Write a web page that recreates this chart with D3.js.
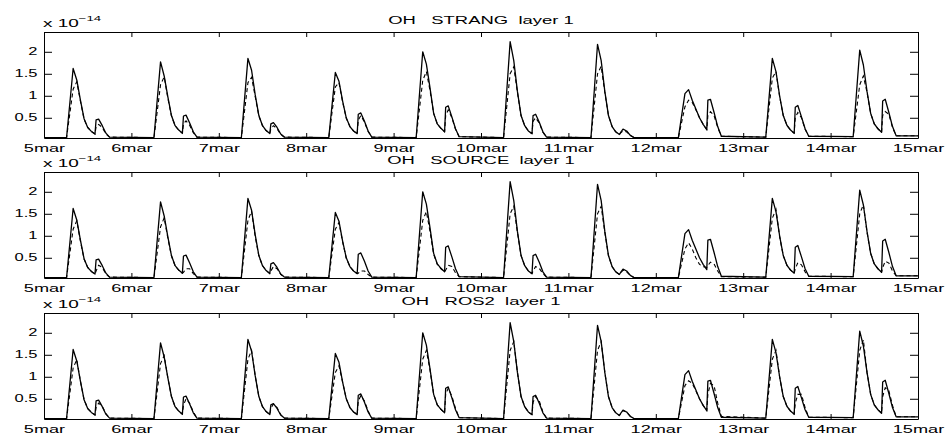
<!DOCTYPE html>
<html>
<head>
<meta charset="utf-8">
<script src="https://cdn.jsdelivr.net/npm/d3@7"></script>
<style>
  body { margin: 0; background: #fff; }
  svg { display: block; font-family: "Liberation Sans", Arial, Helvetica, sans-serif; }
</style>
</head>
<body>
<svg id="chart" width="945" height="435"></svg>
<script>
// x axis: days since 5 March, one label per midnight
const dayLabels = ['5mar', '6mar', '7mar', '8mar', '9mar', '10mar', '11mar', '12mar', '13mar', '14mar', '15mar']
const yTicks = [0.5, 1, 1.5, 2]
// hours of the day at which each daily row is read
const hours = [6.2, 8, 9, 10, 11, 12, 13, 14, 14.3, 15, 16, 17, 18]
const nightFirst = 0.05
const nightLast = 0.09

// solid line (same in all three panels), units of 1e-14
const reference = [
  [0.05, 1.62, 1.36, 0.90, 0.48, 0.28, 0.19, 0.13, 0.45, 0.47, 0.32, 0.15, 0.06],
  [0.05, 1.77, 1.45, 0.98, 0.55, 0.32, 0.22, 0.15, 0.54, 0.56, 0.38, 0.18, 0.06],
  [0.05, 1.85, 1.58, 1.02, 0.55, 0.32, 0.21, 0.14, 0.36, 0.39, 0.28, 0.13, 0.06],
  [0.05, 1.53, 1.33, 0.88, 0.50, 0.30, 0.20, 0.14, 0.58, 0.61, 0.42, 0.20, 0.06],
  [0.05, 2.00, 1.72, 1.18, 0.60, 0.36, 0.26, 0.18, 0.74, 0.77, 0.52, 0.25, 0.07],
  [0.05, 2.23, 1.80, 1.10, 0.55, 0.32, 0.20, 0.14, 0.55, 0.58, 0.40, 0.18, 0.06],
  [0.05, 2.17, 1.80, 1.10, 0.55, 0.30, 0.18, 0.12, 0.16, 0.24, 0.20, 0.10, 0.05],
  [0.05, 1.05, 1.14, 0.90, 0.70, 0.50, 0.35, 0.23, 0.90, 0.92, 0.62, 0.30, 0.08],
  [0.06, 1.85, 1.55, 1.00, 0.55, 0.33, 0.22, 0.15, 0.74, 0.78, 0.52, 0.25, 0.08],
  [0.07, 2.04, 1.70, 1.10, 0.60, 0.36, 0.25, 0.17, 0.88, 0.92, 0.62, 0.30, 0.09]
]

// dashed lines, one per scheme
const strang = [
  [0.05, 1.15, 1.32, 0.88, 0.47, 0.28, 0.19, 0.13, 0.30, 0.35, 0.28, 0.13, 0.06],
  [0.05, 1.25, 1.43, 0.95, 0.54, 0.32, 0.22, 0.15, 0.36, 0.43, 0.33, 0.16, 0.06],
  [0.05, 1.30, 1.42, 0.98, 0.54, 0.32, 0.21, 0.14, 0.25, 0.32, 0.25, 0.12, 0.06],
  [0.05, 1.20, 1.30, 0.86, 0.49, 0.30, 0.20, 0.14, 0.45, 0.55, 0.40, 0.19, 0.06],
  [0.05, 1.35, 1.55, 1.12, 0.60, 0.36, 0.26, 0.18, 0.55, 0.68, 0.50, 0.24, 0.07],
  [0.05, 1.50, 1.66, 1.08, 0.55, 0.32, 0.20, 0.14, 0.42, 0.50, 0.38, 0.17, 0.06],
  [0.05, 1.50, 1.67, 1.08, 0.55, 0.30, 0.18, 0.12, 0.15, 0.20, 0.18, 0.10, 0.05],
  [0.05, 0.75, 0.90, 0.85, 0.68, 0.50, 0.35, 0.23, 0.55, 0.64, 0.55, 0.28, 0.08],
  [0.06, 1.40, 1.55, 0.98, 0.55, 0.33, 0.22, 0.15, 0.50, 0.62, 0.50, 0.24, 0.08],
  [0.07, 1.25, 1.45, 1.08, 0.60, 0.36, 0.25, 0.17, 0.55, 0.64, 0.58, 0.28, 0.09]
]
const source = [
  [0.05, 1.15, 1.34, 0.88, 0.47, 0.28, 0.19, 0.13, 0.20, 0.33, 0.28, 0.13, 0.06],
  [0.05, 1.20, 1.41, 0.95, 0.54, 0.32, 0.22, 0.15, 0.17, 0.25, 0.25, 0.14, 0.06],
  [0.05, 1.35, 1.56, 0.98, 0.54, 0.32, 0.21, 0.14, 0.20, 0.30, 0.25, 0.12, 0.06],
  [0.05, 1.15, 1.30, 0.86, 0.49, 0.30, 0.20, 0.14, 0.15, 0.20, 0.20, 0.12, 0.06],
  [0.05, 1.35, 1.55, 1.10, 0.58, 0.35, 0.25, 0.18, 0.22, 0.33, 0.30, 0.16, 0.07],
  [0.05, 1.50, 1.67, 1.08, 0.55, 0.32, 0.20, 0.14, 0.20, 0.30, 0.26, 0.14, 0.06],
  [0.05, 1.50, 1.67, 1.08, 0.55, 0.30, 0.18, 0.12, 0.15, 0.22, 0.18, 0.10, 0.05],
  [0.05, 0.70, 0.84, 0.70, 0.50, 0.35, 0.30, 0.28, 0.32, 0.40, 0.36, 0.20, 0.07],
  [0.06, 1.40, 1.60, 0.98, 0.55, 0.33, 0.22, 0.15, 0.25, 0.39, 0.34, 0.18, 0.08],
  [0.07, 1.50, 1.71, 1.08, 0.60, 0.36, 0.25, 0.17, 0.28, 0.42, 0.38, 0.20, 0.09]
]
const ros2 = [
  [0.05, 1.20, 1.39, 0.90, 0.48, 0.28, 0.19, 0.13, 0.30, 0.40, 0.33, 0.16, 0.06],
  [0.05, 1.30, 1.48, 0.98, 0.55, 0.32, 0.22, 0.15, 0.35, 0.50, 0.40, 0.20, 0.06],
  [0.05, 1.40, 1.60, 1.02, 0.55, 0.32, 0.21, 0.14, 0.28, 0.38, 0.30, 0.14, 0.06],
  [0.05, 1.10, 1.25, 0.88, 0.50, 0.30, 0.20, 0.14, 0.45, 0.57, 0.45, 0.22, 0.06],
  [0.05, 1.40, 1.60, 1.15, 0.60, 0.36, 0.26, 0.18, 0.60, 0.74, 0.56, 0.28, 0.07],
  [0.05, 1.60, 1.80, 1.10, 0.55, 0.32, 0.20, 0.14, 0.42, 0.55, 0.45, 0.20, 0.06],
  [0.05, 1.60, 1.80, 1.10, 0.55, 0.30, 0.18, 0.12, 0.16, 0.23, 0.20, 0.10, 0.05],
  [0.05, 0.80, 0.91, 0.85, 0.68, 0.50, 0.35, 0.23, 0.60, 0.85, 0.80, 0.40, 0.10],
  [0.06, 1.40, 1.60, 1.00, 0.55, 0.33, 0.22, 0.15, 0.40, 0.60, 0.60, 0.30, 0.08],
  [0.07, 1.60, 1.84, 1.10, 0.60, 0.36, 0.25, 0.17, 0.55, 0.75, 0.68, 0.35, 0.09]
]

const panels = [
  { title: 'OH   STRANG  layer 1', dashed: strang },
  { title: 'OH   SOURCE  layer 1', dashed: source },
  { title: 'OH   ROS2  layer 1', dashed: ros2 }
]

let svg = d3.select('#chart')
let left = 44, right = 918, panelH = 106
let panelTop = [32, 172, 313]
let stretch = 'scale(1.65,1)'

let x = d3.scaleLinear().domain([0, 10]).range([left, right])

// daily rows -> [day, value] pairs
function toPoints(rows) {
  let pts = [[0, nightFirst]]
  rows.forEach((row, d) => row.forEach((v, i) => pts.push([d + hours[i] / 24, v])))
  pts.push([10, nightLast])
  return pts
}

function styleAxis(g) {
  g.attr('font-family', null).attr('font-size', null)
  g.selectAll('.domain, .tick line').attr('stroke', '#000').attr('stroke-width', 1)
  g.selectAll('.tick text').attr('fill', '#000').attr('transform', stretch)
}

panels.forEach((p, k) => {
  let top = panelTop[k], bottom = top + panelH
  let y = d3.scaleLinear().domain([0.04, 2.45]).range([bottom, top])
  let g = svg.append('g')

  g.append('clipPath').attr('id', 'clip' + k)
   .append('rect')
   .attr('x', left).attr('y', top)
   .attr('width', right - left).attr('height', panelH)

  let line = d3.line().x(d => x(d[0])).y(d => y(d[1]))

  g.append('path')
   .datum(toPoints(p.dashed))
   .attr('d', line)
   .attr('clip-path', `url(#clip${k})`)
   .attr('fill', 'none').attr('stroke', '#000')
   .attr('stroke-width', 1.1).attr('stroke-dasharray', '4,3')

  g.append('path')
   .datum(toPoints(reference))
   .attr('d', line)
   .attr('clip-path', `url(#clip${k})`)
   .attr('fill', 'none').attr('stroke', '#000')
   .attr('stroke-width', 1.3).attr('stroke-linejoin', 'round')

  // box with inward ticks
  g.append('g').attr('transform', `translate(0,${bottom})`)
   .call(d3.axisBottom(x).tickValues(d3.range(11)).tickFormat(i => dayLabels[i])
     .tickSizeInner(-5).tickSizeOuter(0).tickPadding(6))
   .call(styleAxis)
   .selectAll('.tick text').attr('font-size', 11)

  g.append('g').attr('transform', `translate(0,${top})`)
   .call(d3.axisTop(x).tickValues(d3.range(11)).tickFormat('')
     .tickSizeInner(-5).tickSizeOuter(0))
   .call(styleAxis)

  g.append('g').attr('transform', `translate(${left},0)`)
   .call(d3.axisLeft(y).tickValues(yTicks).tickFormat(d3.format(''))
     .tickSizeInner(-8).tickSizeOuter(0).tickPadding(4))
   .call(styleAxis)
   .selectAll('.tick text').attr('font-size', 10)

  g.append('g').attr('transform', `translate(${right},0)`)
   .call(d3.axisRight(y).tickValues(yTicks).tickFormat('')
     .tickSizeInner(-8).tickSizeOuter(0))
   .call(styleAxis)

  g.append('text')
   .attr('transform', `translate(481,${top - 8}) scale(1.68,1)`)
   .attr('text-anchor', 'middle')
   .attr('font-size', 11)
   .style('white-space', 'pre')
   .text(p.title)

  let ex = g.append('text')
   .attr('transform', `translate(43,${top - 5}) ${stretch}`)
   .attr('font-size', 11.5)
  ex.append('tspan').text('x 10')
  ex.append('tspan').attr('font-size', 8).attr('dy', -6).text('\u221214')
})
</script>
</body>
</html>
